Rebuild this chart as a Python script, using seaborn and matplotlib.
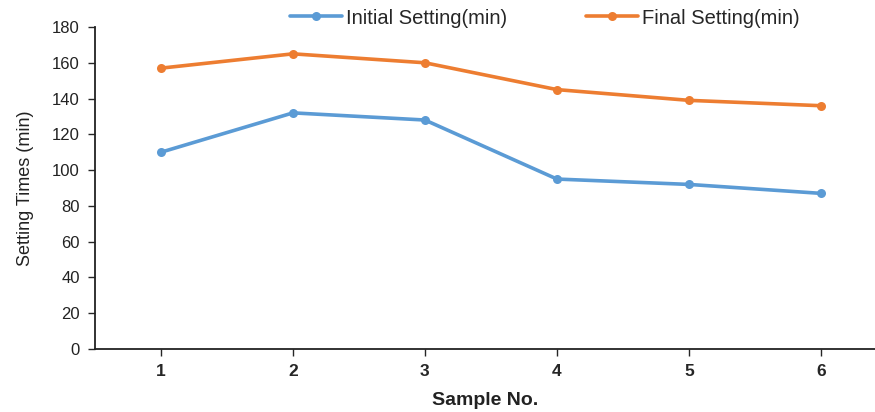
import matplotlib
matplotlib.use("Agg")
import matplotlib.pyplot as plt
import seaborn as sns
import pandas as pd
from matplotlib import font_manager

samples = [1, 2, 3, 4, 5, 6]
initial_setting = [110, 132, 128, 95, 92, 87]
final_setting = [157, 165, 160, 145, 139, 136]
series_names = ["Initial Setting(min)", "Final Setting(min)"]
colors = ["#5B9BD5", "#ED7D31"]

df = pd.concat([
    pd.DataFrame({"Sample": samples, "Value": initial_setting, "Series": series_names[0]}),
    pd.DataFrame({"Sample": samples, "Value": final_setting, "Series": series_names[1]}),
])

sns.set_style("white")
plt.rcParams['font.family'] = ['Liberation Sans', 'DejaVu Sans']

installed = {f.name for f in font_manager.fontManager.ttflist}
narrow = 'Liberation Sans Narrow' if 'Liberation Sans Narrow' in installed else 'Liberation Sans'

fig = plt.figure(figsize=(8.75, 4.12), dpi=100)
ax = fig.add_axes([95/875, 1-349/412, 1-95/875, (349-27)/412])

sns.lineplot(data=df, x="Sample", y="Value", hue="Series", palette=colors,
             marker="o", markersize=6.5, markeredgewidth=0, linewidth=2.6, ax=ax)

ax.set_xlim(0.5, 6.41)
ax.set_ylim(0, 180)
ax.set_yticks(range(0, 181, 20))
ax.set_xticks(samples)
ax.set_xticklabels([str(s) for s in samples], fontweight="bold", fontsize=12.5, family=narrow)
ax.tick_params(axis="y", labelsize=12, length=5, width=1, direction="out", left=True, pad=6)
ax.tick_params(axis="x", length=5, width=1, direction="out", bottom=True, pad=6)
for lab in ax.get_yticklabels():
    lab.set_color("#222222")
ax.set_ylabel("Setting Times (min)", fontsize=13, labelpad=13, color="#222222")
ax.set_xlabel("Sample No.", fontsize=14, fontweight="bold", labelpad=9, color="#222222")

for s in ["top", "right"]:
    ax.spines[s].set_visible(False)
for s in ["left", "bottom"]:
    ax.spines[s].set_color("#222222")
    ax.spines[s].set_linewidth(1.3)

ax.get_legend().remove()
handles, labels = ax.get_legend_handles_labels()
fig.legend(handles, labels, loc="center", bbox_to_anchor=(545/875, 1-18/412),
           ncol=2, frameon=False, fontsize=14.5, columnspacing=3.9,
           handlelength=2.6, handletextpad=0.2)

fig.savefig("out.png", dpi=100)
